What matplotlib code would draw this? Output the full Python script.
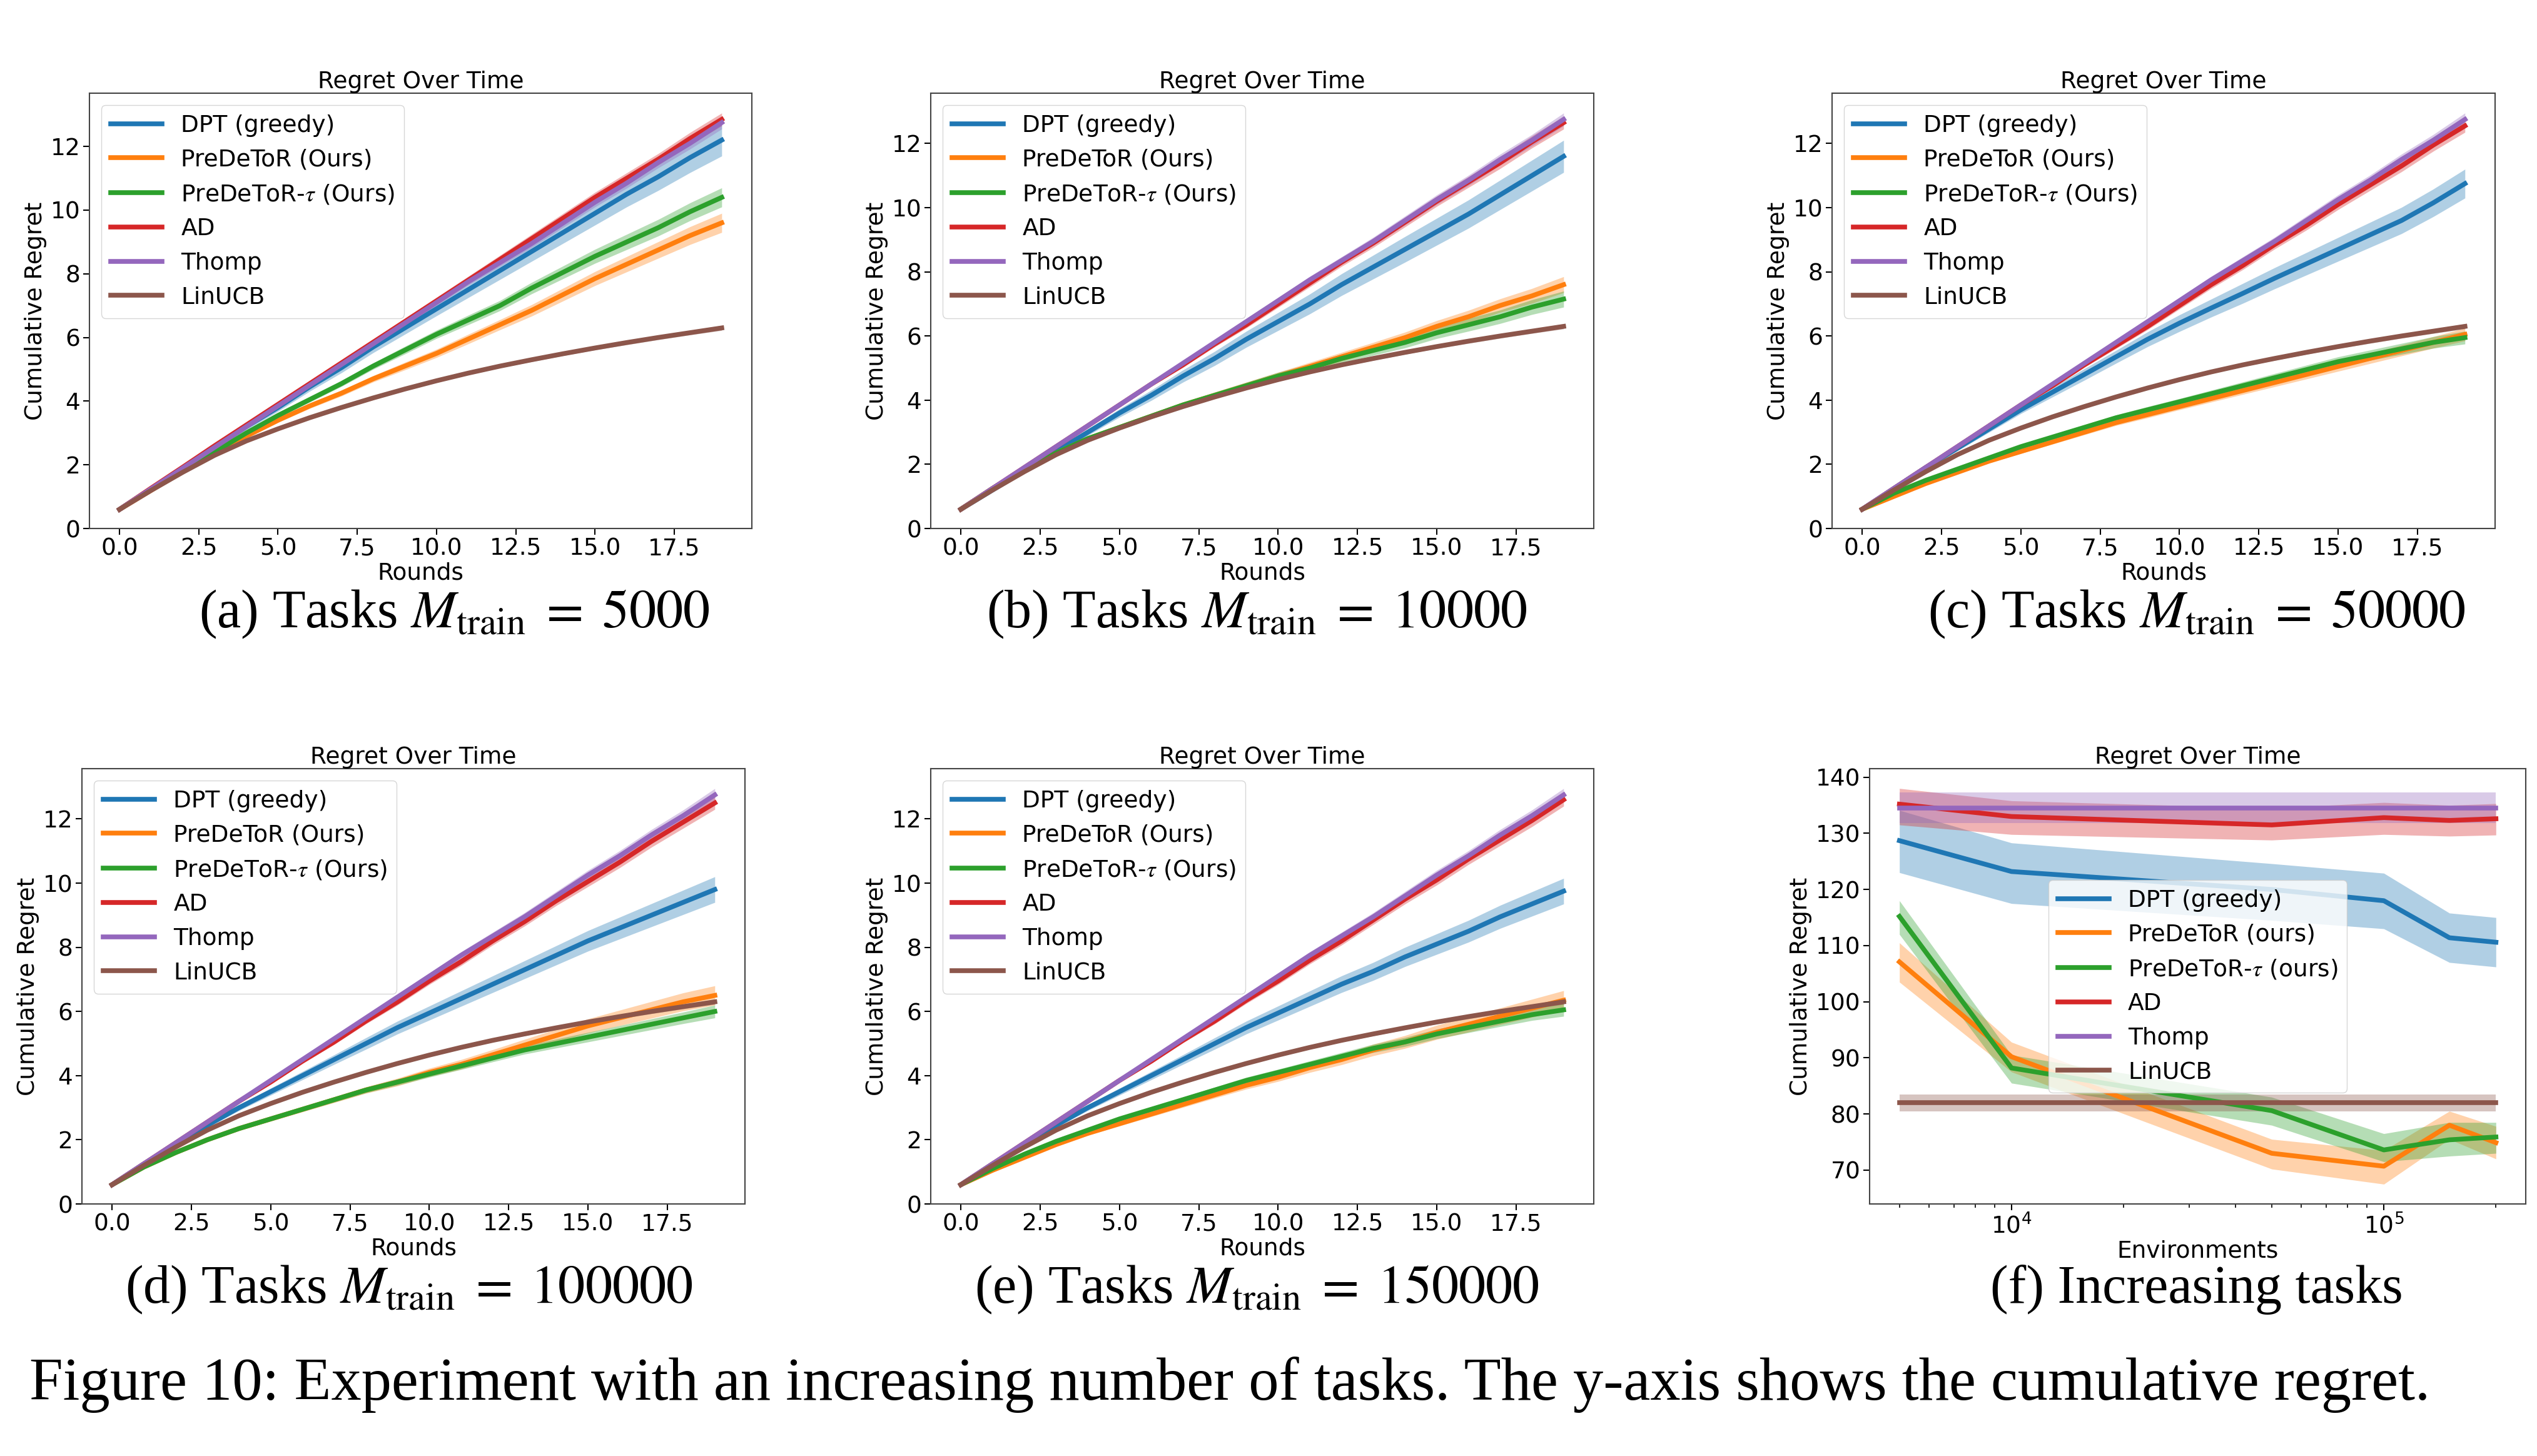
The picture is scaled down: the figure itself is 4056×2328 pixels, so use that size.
import matplotlib
matplotlib.use("Agg")
import matplotlib.pyplot as plt
import numpy as np

plt.rcParams['mathtext.fontset'] = 'stix'
plt.rcParams['font.size'] = 27

W, H = 4056, 2328
FS = 27

# ---- data: rounds panels (a)-(e) ----
rounds = np.arange(20)
panel_names = ['a', 'b', 'c', 'd', 'e']
panel_tasks = ['5000', '10000', '50000', '100000', '150000']

thomp = [0.6, 1.25, 1.9, 2.55, 3.2, 3.85, 4.5, 5.15, 5.8, 6.45, 7.1, 7.75, 8.35, 8.95, 9.6, 10.25, 10.85, 11.5, 12.1, 12.75]
thomp_sd = [0.01, 0.02, 0.03, 0.04, 0.05, 0.06, 0.06, 0.07, 0.08, 0.09, 0.1, 0.11, 0.12, 0.13, 0.14, 0.15, 0.16, 0.17, 0.18, 0.2]
linucb = [0.6, 1.2, 1.77, 2.3, 2.75, 3.13, 3.48, 3.8, 4.1, 4.38, 4.64, 4.88, 5.1, 5.3, 5.49, 5.67, 5.84, 6.0, 6.15, 6.3]
linucb_sd = [0.01, 0.01, 0.02, 0.02, 0.03, 0.03, 0.03, 0.04, 0.04, 0.04, 0.05, 0.05, 0.05, 0.06, 0.06, 0.06, 0.07, 0.07, 0.07, 0.08]
ad_sd = [0.01, 0.02, 0.03, 0.04, 0.05, 0.06, 0.07, 0.08, 0.09, 0.1, 0.11, 0.12, 0.13, 0.14, 0.15, 0.16, 0.17, 0.18, 0.19, 0.2]

ad = [
    [0.6, 1.27, 1.93, 2.6, 3.25, 3.9, 4.55, 5.2, 5.85, 6.5, 7.15, 7.8, 8.45, 9.1, 9.75, 10.4, 11.0, 11.6, 12.25, 12.85],
    [0.6, 1.25, 1.9, 2.55, 3.2, 3.85, 4.5, 5.1, 5.75, 6.35, 7.0, 7.65, 8.3, 8.9, 9.55, 10.2, 10.8, 11.4, 12.05, 12.65],
    [0.6, 1.25, 1.9, 2.55, 3.2, 3.85, 4.45, 5.1, 5.7, 6.3, 6.95, 7.6, 8.2, 8.85, 9.45, 10.1, 10.7, 11.3, 11.95, 12.55],
    [0.6, 1.25, 1.9, 2.55, 3.2, 3.8, 4.45, 5.05, 5.7, 6.3, 6.95, 7.55, 8.2, 8.8, 9.45, 10.05, 10.65, 11.3, 11.9, 12.5],
    [0.6, 1.25, 1.9, 2.55, 3.2, 3.85, 4.45, 5.1, 5.7, 6.35, 6.95, 7.6, 8.2, 8.85, 9.5, 10.1, 10.75, 11.35, 11.95, 12.6],
]
dpt = [
    [0.6, 1.25, 1.9, 2.55, 3.2, 3.8, 4.45, 5.05, 5.7, 6.3, 6.9, 7.5, 8.1, 8.7, 9.3, 9.9, 10.5, 11.05, 11.65, 12.2],
    [0.6, 1.2, 1.8, 2.4, 3.0, 3.6, 4.15, 4.75, 5.3, 5.9, 6.45, 7.0, 7.6, 8.15, 8.7, 9.25, 9.8, 10.4, 11.0, 11.6],
    [0.6, 1.25, 1.9, 2.5, 3.1, 3.7, 4.25, 4.8, 5.35, 5.9, 6.4, 6.87, 7.33, 7.8, 8.25, 8.7, 9.15, 9.6, 10.15, 10.75],
    [0.6, 1.25, 1.85, 2.45, 3.0, 3.5, 4.0, 4.5, 5.0, 5.5, 5.95, 6.4, 6.85, 7.3, 7.75, 8.2, 8.6, 9.0, 9.4, 9.8],
    [0.6, 1.25, 1.85, 2.45, 3.0, 3.5, 4.0, 4.5, 5.0, 5.5, 5.95, 6.4, 6.85, 7.25, 7.7, 8.1, 8.5, 8.95, 9.35, 9.75],
]
dpt_sd = [
    [0.02, 0.04, 0.06, 0.08, 0.1, 0.12, 0.14, 0.16, 0.18, 0.2, 0.22, 0.25, 0.28, 0.31, 0.34, 0.37, 0.4, 0.43, 0.47, 0.5],
    [0.02, 0.04, 0.06, 0.08, 0.1, 0.13, 0.16, 0.19, 0.22, 0.25, 0.28, 0.31, 0.34, 0.37, 0.4, 0.42, 0.44, 0.46, 0.48, 0.5],
    [0.02, 0.04, 0.06, 0.08, 0.1, 0.12, 0.15, 0.18, 0.2, 0.23, 0.26, 0.28, 0.31, 0.33, 0.35, 0.37, 0.39, 0.41, 0.43, 0.45],
    [0.02, 0.03, 0.05, 0.07, 0.09, 0.11, 0.13, 0.15, 0.18, 0.2, 0.22, 0.24, 0.26, 0.28, 0.3, 0.32, 0.34, 0.36, 0.38, 0.4],
    [0.02, 0.03, 0.05, 0.07, 0.09, 0.11, 0.13, 0.15, 0.18, 0.2, 0.22, 0.24, 0.26, 0.28, 0.3, 0.32, 0.34, 0.36, 0.38, 0.4],
]
predetor = [
    [0.6, 1.2, 1.8, 2.35, 2.9, 3.4, 3.85, 4.25, 4.7, 5.1, 5.5, 5.95, 6.4, 6.85, 7.35, 7.85, 8.3, 8.75, 9.2, 9.6],
    [0.6, 1.25, 1.85, 2.35, 2.8, 3.15, 3.5, 3.85, 4.15, 4.45, 4.75, 5.05, 5.35, 5.65, 5.95, 6.3, 6.6, 6.95, 7.25, 7.6],
    [0.6, 1.0, 1.4, 1.75, 2.1, 2.4, 2.7, 3.0, 3.3, 3.55, 3.8, 4.05, 4.3, 4.55, 4.8, 5.05, 5.3, 5.55, 5.8, 6.05],
    [0.6, 1.15, 1.6, 2.0, 2.35, 2.65, 2.95, 3.25, 3.55, 3.8, 4.1, 4.35, 4.65, 4.95, 5.25, 5.55, 5.8, 6.05, 6.3, 6.5],
    [0.6, 1.05, 1.45, 1.85, 2.2, 2.5, 2.8, 3.1, 3.4, 3.7, 3.95, 4.25, 4.5, 4.8, 5.05, 5.35, 5.6, 5.85, 6.1, 6.35],
]
predetor_sd = [
    [0.02, 0.03, 0.04, 0.05, 0.06, 0.07, 0.08, 0.09, 0.1, 0.12, 0.13, 0.15, 0.16, 0.18, 0.2, 0.22, 0.24, 0.26, 0.28, 0.3],
    [0.02, 0.03, 0.04, 0.05, 0.06, 0.07, 0.08, 0.09, 0.1, 0.11, 0.12, 0.13, 0.14, 0.15, 0.17, 0.18, 0.2, 0.21, 0.23, 0.25],
    [0.01, 0.02, 0.03, 0.04, 0.05, 0.06, 0.07, 0.08, 0.09, 0.1, 0.1, 0.11, 0.12, 0.13, 0.14, 0.15, 0.16, 0.17, 0.18, 0.2],
    [0.02, 0.03, 0.04, 0.05, 0.06, 0.07, 0.08, 0.09, 0.1, 0.12, 0.13, 0.15, 0.16, 0.18, 0.2, 0.22, 0.24, 0.26, 0.28, 0.3],
    [0.02, 0.03, 0.04, 0.05, 0.06, 0.07, 0.08, 0.09, 0.1, 0.12, 0.13, 0.15, 0.16, 0.18, 0.2, 0.22, 0.24, 0.26, 0.28, 0.3],
]
predetor_tau = [
    [0.6, 1.25, 1.85, 2.4, 3.0, 3.55, 4.05, 4.55, 5.1, 5.6, 6.1, 6.55, 7.0, 7.55, 8.05, 8.55, 9.0, 9.45, 9.95, 10.4],
    [0.6, 1.25, 1.85, 2.35, 2.8, 3.15, 3.5, 3.85, 4.15, 4.45, 4.75, 5.0, 5.3, 5.55, 5.8, 6.1, 6.35, 6.6, 6.9, 7.15],
    [0.6, 1.1, 1.5, 1.85, 2.2, 2.55, 2.85, 3.15, 3.45, 3.7, 3.95, 4.2, 4.45, 4.7, 4.95, 5.2, 5.4, 5.6, 5.8, 5.95],
    [0.6, 1.15, 1.6, 2.0, 2.35, 2.65, 2.95, 3.25, 3.55, 3.8, 4.05, 4.3, 4.55, 4.8, 5.0, 5.2, 5.4, 5.6, 5.8, 6.0],
    [0.6, 1.1, 1.55, 1.95, 2.3, 2.65, 2.95, 3.25, 3.55, 3.85, 4.1, 4.35, 4.6, 4.85, 5.05, 5.3, 5.5, 5.7, 5.9, 6.05],
]
predetor_tau_sd = [
    [0.02, 0.03, 0.04, 0.05, 0.06, 0.07, 0.08, 0.09, 0.1, 0.12, 0.13, 0.15, 0.16, 0.18, 0.2, 0.22, 0.24, 0.26, 0.28, 0.3],
    [0.02, 0.03, 0.04, 0.05, 0.06, 0.07, 0.08, 0.09, 0.1, 0.11, 0.12, 0.13, 0.14, 0.15, 0.17, 0.18, 0.2, 0.21, 0.23, 0.25],
    [0.01, 0.02, 0.03, 0.04, 0.05, 0.06, 0.07, 0.08, 0.09, 0.1, 0.1, 0.11, 0.12, 0.13, 0.14, 0.15, 0.16, 0.17, 0.18, 0.2],
    [0.01, 0.02, 0.03, 0.04, 0.05, 0.06, 0.07, 0.08, 0.09, 0.1, 0.1, 0.11, 0.12, 0.13, 0.14, 0.15, 0.16, 0.17, 0.18, 0.2],
    [0.01, 0.02, 0.03, 0.04, 0.05, 0.06, 0.07, 0.08, 0.09, 0.1, 0.1, 0.11, 0.12, 0.13, 0.14, 0.15, 0.16, 0.17, 0.18, 0.2],
]

# ---- data: panel (f), regret vs number of environments ----
envs = [5000, 10000, 50000, 100000, 150000, 200000]
f_dpt = [128.7, 123.2, 120.0, 118.0, 111.4, 110.6]
f_dpt_lo = [123.0, 117.5, 114.5, 113.0, 107.0, 106.2]
f_dpt_hi = [134.1, 128.3, 124.6, 122.9, 115.8, 115.0]
f_pred = [107.1, 90.2, 73.0, 70.7, 78.0, 74.9]
f_pred_lo = [103.5, 87.5, 70.2, 67.5, 75.5, 72.0]
f_pred_hi = [110.5, 92.8, 75.5, 73.5, 80.5, 77.8]
f_tau = [115.2, 88.2, 80.6, 73.6, 75.4, 75.9]
f_tau_lo = [112.0, 85.5, 78.0, 71.5, 72.5, 73.0]
f_tau_hi = [118.0, 90.5, 83.0, 76.5, 78.5, 78.5]
f_ad = [135.2, 133.0, 131.5, 132.8, 132.3, 132.6]
f_ad_lo = [131.5, 129.8, 128.8, 129.8, 129.5, 129.7]
f_ad_hi = [138.0, 135.8, 134.5, 135.5, 135.0, 135.3]
f_thomp = [134.5, 134.5, 134.5, 134.5, 134.5, 134.5]
f_thomp_lo = [131.8, 131.8, 131.8, 131.8, 131.8, 131.8]
f_thomp_hi = [137.3, 137.3, 137.3, 137.3, 137.3, 137.3]
f_lin = [82.0, 82.0, 82.0, 82.0, 82.0, 82.0]
f_lin_lo = [80.5, 80.5, 80.5, 80.5, 80.5, 80.5]
f_lin_hi = [83.5, 83.5, 83.5, 83.5, 83.5, 83.5]

colors = ['#1f77b4', '#ff7f0e', '#2ca02c', '#d62728', '#9467bd', '#8c564b']
labels_ours = ['DPT (greedy)', 'PreDeToR (Ours)', r'PreDeToR-$\tau$ (Ours)', 'AD', 'Thomp', 'LinUCB']
labels_f = ['DPT (greedy)', 'PreDeToR (ours)', r'PreDeToR-$\tau$ (ours)', 'AD', 'Thomp', 'LinUCB']

# axes boxes in pixels: left, top, right, bottom
boxes = [(143, 149, 1202, 845), (1488, 149, 2548, 845), (2929, 149, 3989, 845),
         (131, 1229, 1191, 1925), (1488, 1229, 2548, 1925), (2989, 1229, 4038, 1925)]
cap_pos = [(726, 1003), (2009, 1003), (3512, 1003), (654, 2083), (2009, 2083), (3512, 2083)]

LW = 5.5


def make_ax(fig, box):
    l, t, r, b = box
    ax = fig.add_axes([l / W, 1 - b / H, (r - l) / W, (b - t) / H])
    for s in ax.spines.values():
        s.set_linewidth(1.5)
        s.set_color('#444444')
    ax.tick_params(labelsize=FS, width=1.5, length=7)
    ax.set_title('Regret Over Time', fontsize=FS)
    ax.set_ylabel('Cumulative Regret', fontsize=FS)
    return ax


def band(ax, x, m, sd, c):
    m = np.array(m)
    sd = np.array(sd)
    ax.fill_between(x, m - sd, m + sd, color=c, alpha=0.35, linewidth=0)


fig = plt.figure(figsize=(W / 100, H / 100), dpi=100)

for i in range(5):
    ax = make_ax(fig, boxes[i])
    series = [(dpt[i], dpt_sd[i]), (predetor[i], predetor_sd[i]), (predetor_tau[i], predetor_tau_sd[i]),
              (ad[i], ad_sd), (thomp, thomp_sd), (linucb, linucb_sd)]
    for (m, sd), c, lab in zip(series, colors, labels_ours):
        ax.plot(rounds, m, color=c, lw=LW, label=lab)
        band(ax, rounds, m, sd, c)
    ax.set_ylim(bottom=0)
    ax.set_xlabel('Rounds', fontsize=FS, labelpad=2)
    ax.legend(loc='upper left', fontsize=FS, handlelength=2.2)

# panel (f)
ax = make_ax(fig, boxes[5])
f_series = [(f_dpt, f_dpt_lo, f_dpt_hi), (f_pred, f_pred_lo, f_pred_hi), (f_tau, f_tau_lo, f_tau_hi),
            (f_ad, f_ad_lo, f_ad_hi), (f_thomp, f_thomp_lo, f_thomp_hi), (f_lin, f_lin_lo, f_lin_hi)]
for (m, lo, hi), c, lab in zip(f_series, colors, labels_f):
    ax.plot(envs, m, color=c, lw=LW, label=lab)
    ax.fill_between(envs, lo, hi, color=c, alpha=0.35, linewidth=0)
ax.set_xscale('log')
ax.set_xlabel('Environments', fontsize=FS, labelpad=2)
ax.tick_params(which='minor', width=1.2, length=4)
ax.legend(loc='center', fontsize=FS, handlelength=2.2)

# sub-captions
captions = ['(%s) Tasks $M_{\\mathrm{train}}\\;=\\;%s$' % (n, t) for n, t in zip(panel_names, panel_tasks)]
captions.append('(f) Increasing tasks')
for (x, y), txt in zip(cap_pos, captions):
    fig.text(x / W, 1 - y / H, txt, ha='center', va='baseline', fontsize=62,
             fontfamily='Liberation Serif')

fig.text(47 / W, 1 - 2238 / H,
         'Figure 10: Experiment with an increasing number of tasks. The y-axis shows the cumulative regret.',
         ha='left', va='baseline', fontsize=69.5, fontfamily='Liberation Serif')

fig.savefig('out.png', dpi=100)
